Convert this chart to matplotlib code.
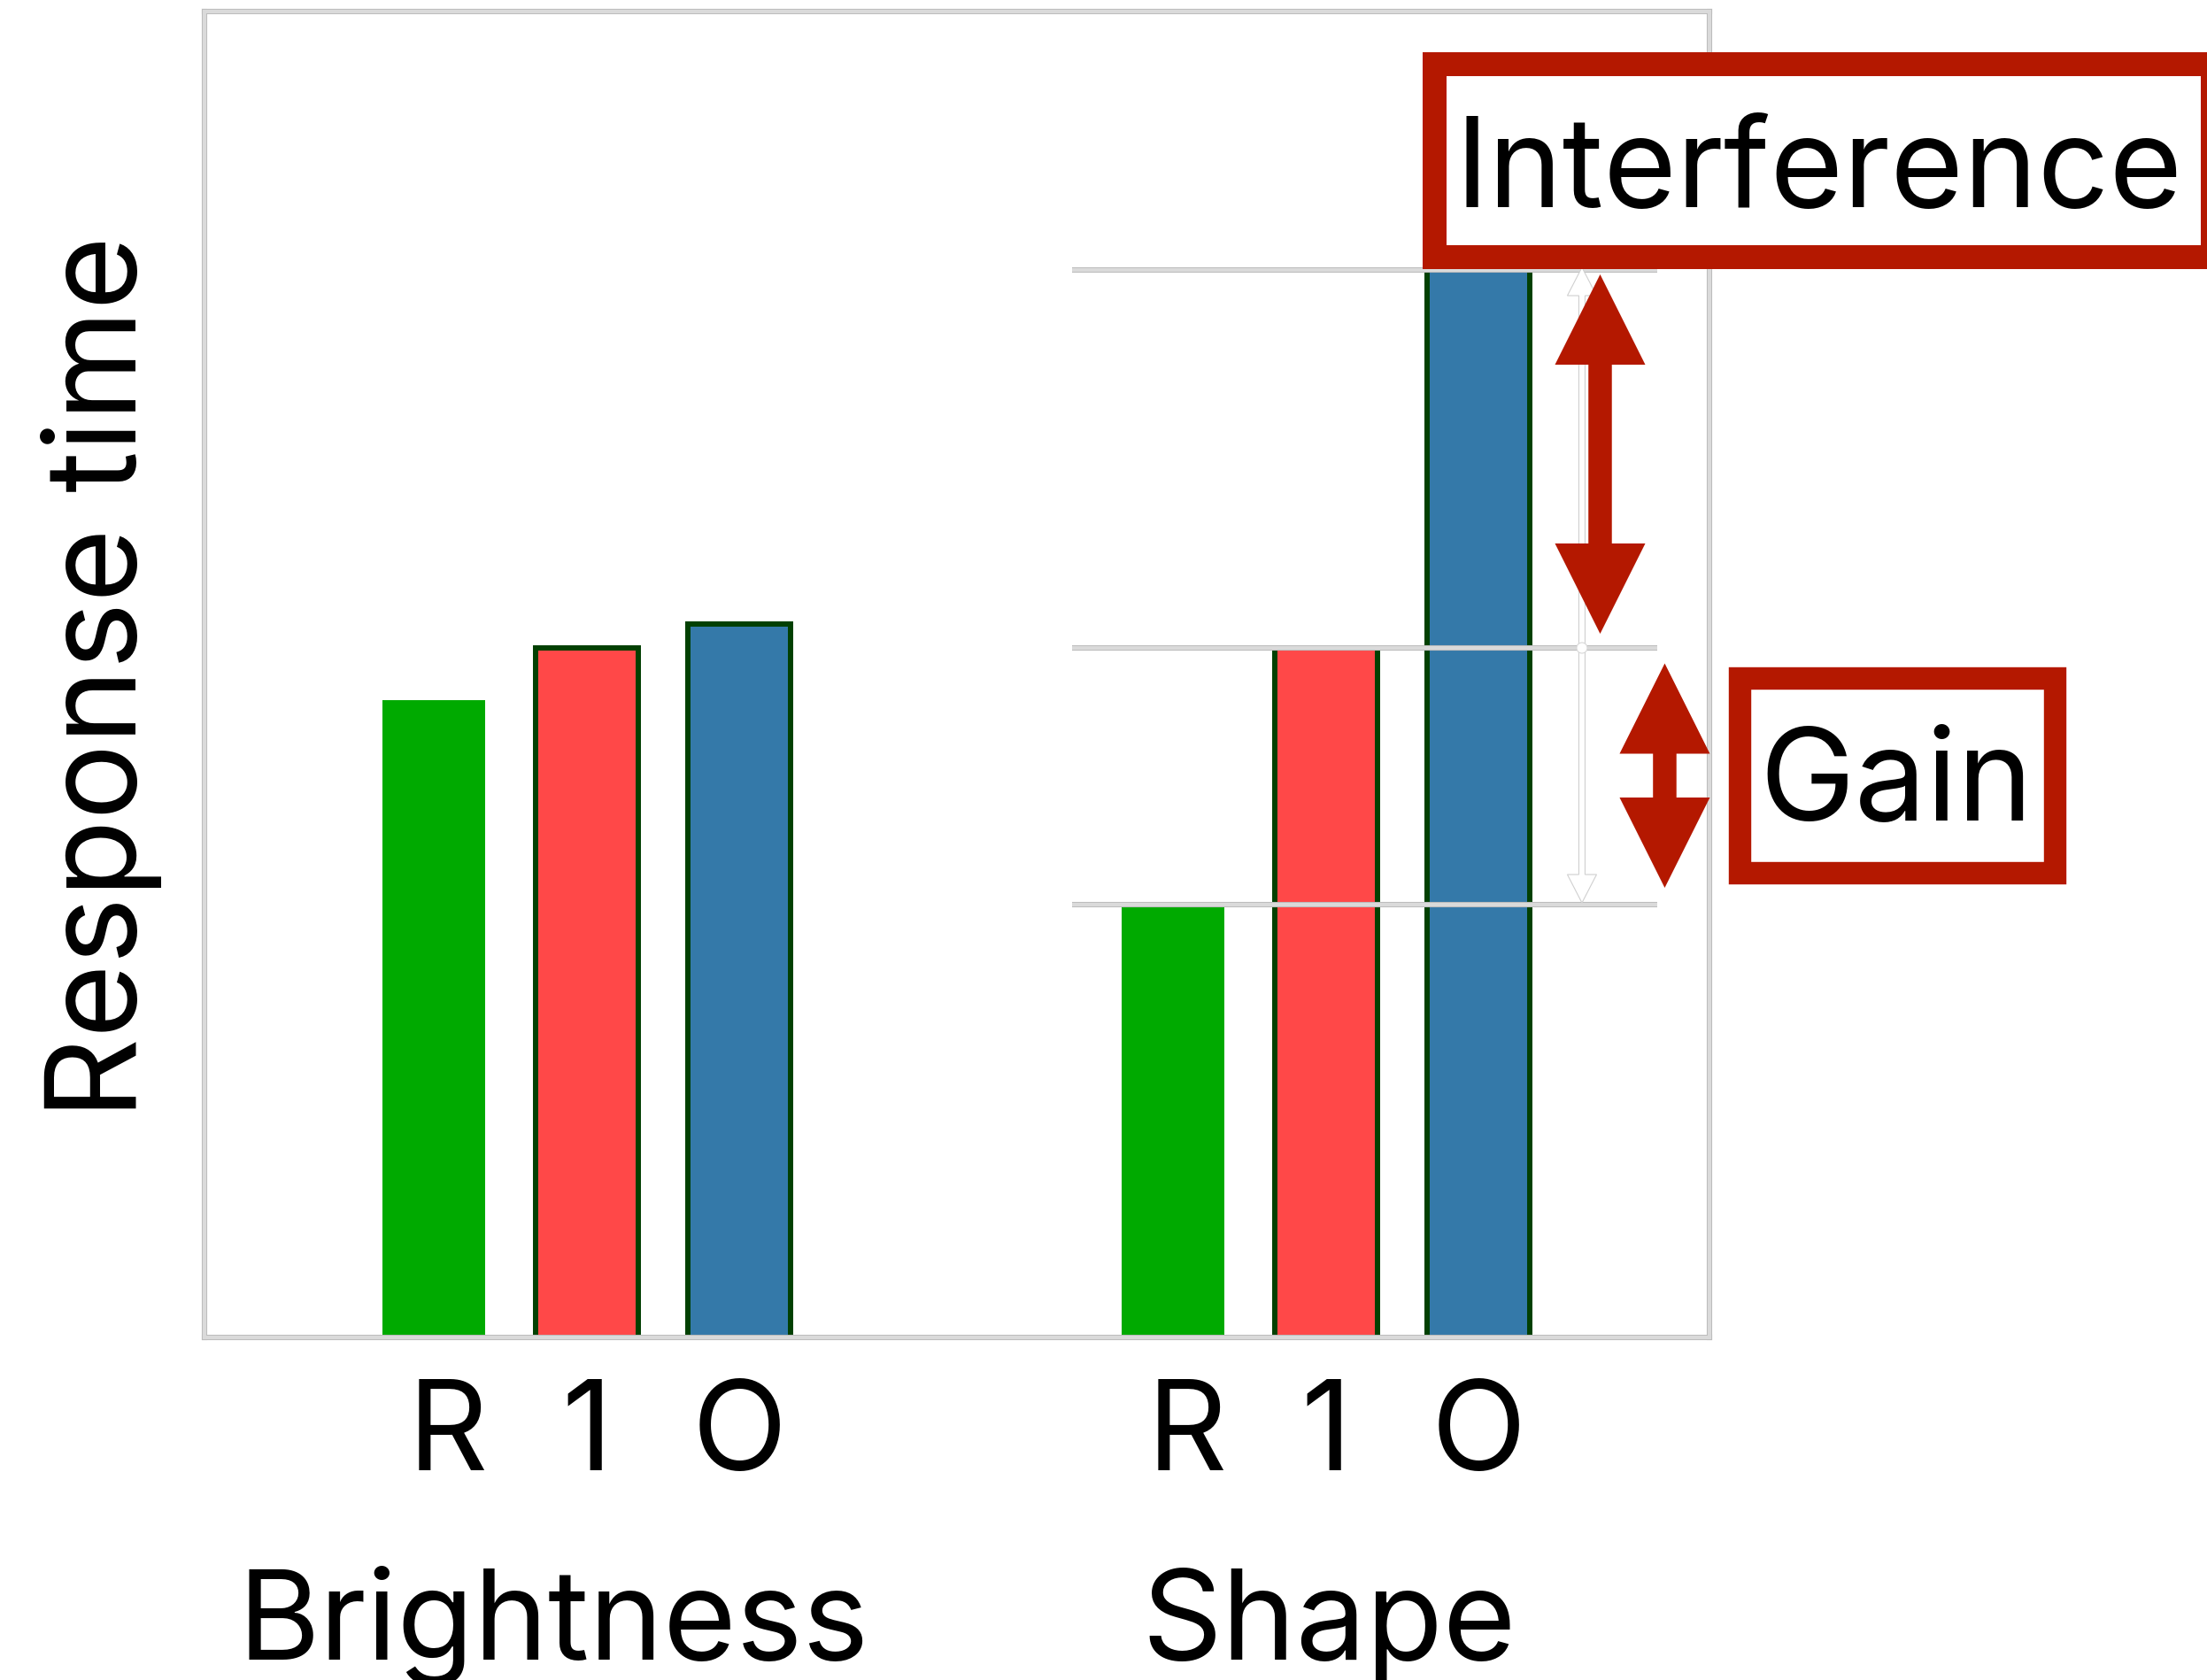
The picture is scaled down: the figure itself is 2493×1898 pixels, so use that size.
import matplotlib
matplotlib.use('Agg')
import matplotlib.pyplot as plt
from matplotlib.patches import Polygon, Rectangle, Circle
from matplotlib.transforms import IdentityTransform

# ---- data ----
groups = ['Brightness', 'Shape']
conditions = ['R', '1', 'O']
brightness_rt = [720, 779, 806]
shape_rt = [489, 779, 1206]
bar_colors = ['#00AA00', '#FF4848', '#3479A9']
edge_colors = ['#00AA00', '#024002', '#024002']
edge_widths = [0, 4.3, 4.3]
group_offsets = [0.0, 4.84]
y_label = 'Response time'
box_labels = ['Interference', 'Gain']

RED = '#B41800'
FONT = ['Inter', 'DejaVu Sans']
plt.rcParams['font.family'] = FONT

W, H, DPI = 2493, 1898, 100
fig = plt.figure(figsize=(W / DPI, H / DPI), dpi=DPI)
fig.patch.set_facecolor('white')
ax = fig.add_axes([231 / W, 1 - 1511 / H, (1931 - 231) / W, (1511 - 13) / H])

bar_w = 0.672
all_vals = [brightness_rt, shape_rt]
xs_all = []
for g, (off, vals) in enumerate(zip(group_offsets, all_vals)):
    xs = [off + i for i in range(len(conditions))]
    xs_all.append(xs)
    for i, (x, v) in enumerate(zip(xs, vals)):
        ax.bar(x, v, width=bar_w, color=bar_colors[i], edgecolor=edge_colors[i],
               linewidth=edge_widths[i], zorder=2)

ax.set_xlim(-1.504, 8.351)
ax.set_ylim(0, 1498)
ax.set_xticks([])
ax.set_yticks([])

# frame
for sp in ax.spines.values():
    sp.set_color('#bdbdbd')
    sp.set_linewidth(4.4)
ax.add_patch(Rectangle((0, 0), 1, 1, transform=ax.transAxes, fill=False,
                       edgecolor='#dadada', linewidth=2.9, clip_on=False, zorder=5))

# reference lines at shape bar tops
x0l, x1l = xs_all[1][0] - 0.66, xs_all[1][2] + 1.17
for v in shape_rt:
    ax.hlines(v, x0l, x1l, colors='#bdbdbd', linewidth=4.4, zorder=3, clip_on=False)
    ax.hlines(v, x0l, x1l, colors='#dadada', linewidth=2.9, zorder=3.1, clip_on=False)


def v_double_arrow(x, y_top, y_bot, shaft_w, head_w, head_len, zorder, **kw):
    X, Yt = ax.transData.transform((x, y_top))
    _, Yb = ax.transData.transform((x, y_bot))
    s, h = shaft_w / 2, head_w / 2
    pts = [(X, Yt), (X + h, Yt - head_len), (X + s, Yt - head_len),
           (X + s, Yb + head_len), (X + h, Yb + head_len), (X, Yb),
           (X - h, Yb + head_len), (X - s, Yb + head_len),
           (X - s, Yt - head_len), (X - h, Yt - head_len)]
    poly = Polygon(pts, closed=True, transform=IdentityTransform(), zorder=zorder, **kw)
    fig.add_artist(poly)
    return X


# thin white arrow (span of the whole shape effect)
Xw = v_double_arrow(7.516, shape_rt[2] + 3, shape_rt[0] + 2, 7, 33, 32, 6,
                    facecolor='white', edgecolor='#d0d0d0', linewidth=0.8)
_, Ym = ax.transData.transform((7.516, shape_rt[1]))
fig.add_artist(Circle((Xw, Ym), 6, transform=IdentityTransform(), facecolor='white',
                      edgecolor='#d8d8d8', linewidth=0.8, zorder=6.5))

# red arrows
v_double_arrow(7.635, shape_rt[2] - 5, shape_rt[1] + 16, 26.5, 102, 102, 7,
               facecolor=RED, edgecolor='none')
v_double_arrow(8.058, shape_rt[1] - 17.5, shape_rt[0] + 19, 26.5, 102, 102, 7,
               facecolor=RED, edgecolor='none')

# annotation boxes (pixel layout)
def px_rect(x0, y0_top, x1, y1_top, lw_px):
    r = Rectangle((x0 / W, 1 - y1_top / H), (x1 - x0) / W, (y1_top - y0_top) / H,
                  transform=fig.transFigure, facecolor='white', edgecolor=RED,
                  linewidth=lw_px * 72 / DPI, zorder=8, joinstyle='miter')
    fig.add_artist(r)

px_rect(1620, 71.7, 2499, 290, 27)
px_rect(1965, 766, 2321, 985.8, 25.4)
fig.text(2054.6 / W, 1 - 233.7 / H, box_labels[0], ha='center', va='baseline',
         fontsize=102, zorder=9)
fig.text(2142.4 / W, 1 - 927 / H, box_labels[1], ha='center', va='baseline',
         fontsize=104, zorder=9)

# category & group labels
tick_dx = [11, 0, 0]          # points, optical nudge of the labels
group_dx = [-27, 2]
for g, xs in enumerate(xs_all):
    for x, c, dx in zip(xs, conditions, tick_dx):
        ax.annotate(c, xy=(x, 0), xycoords=('data', 'axes fraction'),
                    xytext=(dx, -107.8), textcoords='offset points',
                    ha='center', va='baseline', fontsize=101)
    ax.annotate(groups[g], xy=(xs[1], 0), xycoords=('data', 'axes fraction'),
                xytext=(group_dx[g], -262), textcoords='offset points',
                ha='center', va='baseline', fontsize=102)

ax.annotate(y_label, xy=(0, 0.5), xycoords='axes fraction',
            xytext=(-77 * 72 / DPI, -2), textcoords='offset points',
            rotation=90, rotation_mode='anchor', ha='center', va='baseline',
            fontsize=103)

fig.savefig('out.png', dpi=DPI, facecolor='white')
